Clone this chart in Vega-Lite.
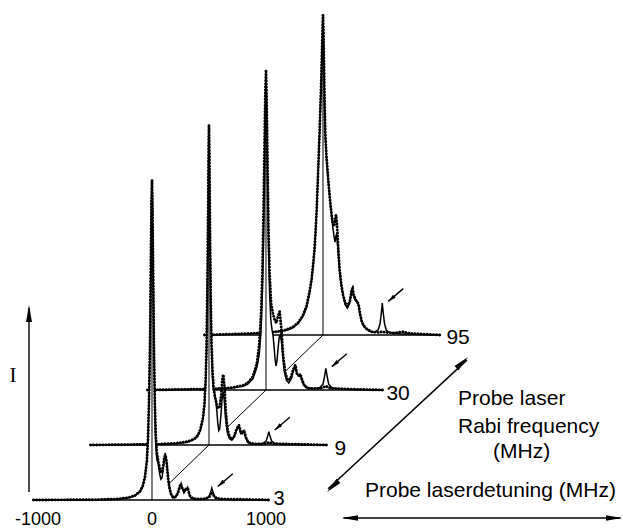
{
"$schema":"https://vega.github.io/schema/vega-lite/v6.json",
"width":623,"height":529,"padding":0,"autosize":{"type":"none"},"background":"white",
"config":{"view":{"stroke":null},"axis":{"disable":true},"legend":{"disable":true}},
"data":{"values":[
{"s":3,"c":"t","d":-1040,"i":0},{"s":3,"c":"t","d":-500,"i":0.001},{"s":3,"c":"t","d":-300,"i":0.003},{"s":3,"c":"t","d":-200,"i":0.007},{"s":3,"c":"t","d":-150,"i":0.013},{"s":3,"c":"t","d":-106,"i":0.025},{"s":3,"c":"t","d":-80,"i":0.043},{"s":3,"c":"t","d":-62,"i":0.07},{"s":3,"c":"t","d":-45,"i":0.125},{"s":3,"c":"t","d":-35,"i":0.19},{"s":3,"c":"t","d":-25,"i":0.32},{"s":3,"c":"t","d":-17,"i":0.5},{"s":3,"c":"t","d":-10,"i":0.74},{"s":3,"c":"t","d":-5,"i":0.92},{"s":3,"c":"t","d":0,"i":1},{"s":3,"c":"t","d":5,"i":0.92},{"s":3,"c":"t","d":10,"i":0.74},{"s":3,"c":"t","d":17,"i":0.5},{"s":3,"c":"t","d":25,"i":0.3},{"s":3,"c":"t","d":33,"i":0.17},{"s":3,"c":"t","d":42,"i":0.13},{"s":3,"c":"t","d":55,"i":0.11},{"s":3,"c":"t","d":68,"i":0.08},{"s":3,"c":"t","d":78,"i":0.065},{"s":3,"c":"t","d":88,"i":0.07},{"s":3,"c":"t","d":100,"i":0.1},{"s":3,"c":"t","d":108,"i":0.13},{"s":3,"c":"t","d":116,"i":0.147},{"s":3,"c":"t","d":125,"i":0.13},{"s":3,"c":"t","d":135,"i":0.09},{"s":3,"c":"t","d":145,"i":0.06},{"s":3,"c":"t","d":155,"i":0.035},{"s":3,"c":"t","d":165,"i":0.018},{"s":3,"c":"t","d":185,"i":0.006},{"s":3,"c":"t","d":205,"i":0.008},{"s":3,"c":"t","d":225,"i":0.02},{"s":3,"c":"t","d":242,"i":0.04},{"s":3,"c":"t","d":255,"i":0.052},{"s":3,"c":"t","d":268,"i":0.035},{"s":3,"c":"t","d":280,"i":0.022},{"s":3,"c":"t","d":295,"i":0.03},{"s":3,"c":"t","d":313,"i":0.04},{"s":3,"c":"t","d":325,"i":0.02},{"s":3,"c":"t","d":340,"i":0.006},{"s":3,"c":"t","d":380,"i":0.002},{"s":3,"c":"t","d":470,"i":0.003},{"s":3,"c":"t","d":500,"i":0.01},{"s":3,"c":"t","d":515,"i":0.025},{"s":3,"c":"t","d":525,"i":0.037},{"s":3,"c":"t","d":535,"i":0.025},{"s":3,"c":"t","d":550,"i":0.01},{"s":3,"c":"t","d":580,"i":0.003},{"s":3,"c":"t","d":700,"i":0.001},{"s":3,"c":"t","d":1030,"i":0},
{"s":3,"c":"e","d":-1040,"i":0},{"s":3,"c":"e","d":-500,"i":0.001},{"s":3,"c":"e","d":-300,"i":0.003},{"s":3,"c":"e","d":-200,"i":0.008},{"s":3,"c":"e","d":-150,"i":0.014},{"s":3,"c":"e","d":-106,"i":0.027},{"s":3,"c":"e","d":-80,"i":0.045},{"s":3,"c":"e","d":-62,"i":0.072},{"s":3,"c":"e","d":-45,"i":0.12},{"s":3,"c":"e","d":-35,"i":0.19},{"s":3,"c":"e","d":-25,"i":0.33},{"s":3,"c":"e","d":-17,"i":0.5},{"s":3,"c":"e","d":-10,"i":0.75},{"s":3,"c":"e","d":-5,"i":0.93},{"s":3,"c":"e","d":0,"i":1},{"s":3,"c":"e","d":5,"i":0.9},{"s":3,"c":"e","d":10,"i":0.72},{"s":3,"c":"e","d":17,"i":0.48},{"s":3,"c":"e","d":25,"i":0.3},{"s":3,"c":"e","d":33,"i":0.2},{"s":3,"c":"e","d":42,"i":0.15},{"s":3,"c":"e","d":55,"i":0.12},{"s":3,"c":"e","d":68,"i":0.1},{"s":3,"c":"e","d":78,"i":0.085},{"s":3,"c":"e","d":88,"i":0.09},{"s":3,"c":"e","d":100,"i":0.11},{"s":3,"c":"e","d":110,"i":0.135},{"s":3,"c":"e","d":118,"i":0.14},{"s":3,"c":"e","d":128,"i":0.12},{"s":3,"c":"e","d":140,"i":0.07},{"s":3,"c":"e","d":152,"i":0.04},{"s":3,"c":"e","d":165,"i":0.02},{"s":3,"c":"e","d":185,"i":0.008},{"s":3,"c":"e","d":210,"i":0.01},{"s":3,"c":"e","d":230,"i":0.025},{"s":3,"c":"e","d":250,"i":0.05},{"s":3,"c":"e","d":268,"i":0.035},{"s":3,"c":"e","d":282,"i":0.028},{"s":3,"c":"e","d":300,"i":0.035},{"s":3,"c":"e","d":315,"i":0.035},{"s":3,"c":"e","d":330,"i":0.015},{"s":3,"c":"e","d":360,"i":0.004},{"s":3,"c":"e","d":450,"i":0.003},{"s":3,"c":"e","d":500,"i":0.008},{"s":3,"c":"e","d":525,"i":0.025},{"s":3,"c":"e","d":550,"i":0.008},{"s":3,"c":"e","d":600,"i":0.003},{"s":3,"c":"e","d":800,"i":0.002},{"s":3,"c":"e","d":1030,"i":0},
{"s":3,"c":"p","d":525,"i":0.037},
{"s":9,"c":"t","d":-1040,"i":0},{"s":9,"c":"t","d":-500,"i":0.002},{"s":9,"c":"t","d":-300,"i":0.004},{"s":9,"c":"t","d":-200,"i":0.008},{"s":9,"c":"t","d":-160,"i":0.012},{"s":9,"c":"t","d":-120,"i":0.02},{"s":9,"c":"t","d":-97,"i":0.03},{"s":9,"c":"t","d":-75,"i":0.045},{"s":9,"c":"t","d":-53,"i":0.08},{"s":9,"c":"t","d":-40,"i":0.12},{"s":9,"c":"t","d":-30,"i":0.18},{"s":9,"c":"t","d":-22,"i":0.28},{"s":9,"c":"t","d":-15,"i":0.45},{"s":9,"c":"t","d":-8,"i":0.7},{"s":9,"c":"t","d":-3,"i":0.93},{"s":9,"c":"t","d":0,"i":1},{"s":9,"c":"t","d":3,"i":0.93},{"s":9,"c":"t","d":8,"i":0.7},{"s":9,"c":"t","d":15,"i":0.45},{"s":9,"c":"t","d":22,"i":0.3},{"s":9,"c":"t","d":30,"i":0.21},{"s":9,"c":"t","d":40,"i":0.17},{"s":9,"c":"t","d":50,"i":0.16},{"s":9,"c":"t","d":60,"i":0.14},{"s":9,"c":"t","d":70,"i":0.1},{"s":9,"c":"t","d":78,"i":0.065},{"s":9,"c":"t","d":86,"i":0.045},{"s":9,"c":"t","d":94,"i":0.05},{"s":9,"c":"t","d":104,"i":0.09},{"s":9,"c":"t","d":114,"i":0.14},{"s":9,"c":"t","d":124,"i":0.166},{"s":9,"c":"t","d":134,"i":0.14},{"s":9,"c":"t","d":146,"i":0.08},{"s":9,"c":"t","d":160,"i":0.04},{"s":9,"c":"t","d":178,"i":0.02},{"s":9,"c":"t","d":200,"i":0.015},{"s":9,"c":"t","d":220,"i":0.025},{"s":9,"c":"t","d":240,"i":0.045},{"s":9,"c":"t","d":262,"i":0.06},{"s":9,"c":"t","d":278,"i":0.035},{"s":9,"c":"t","d":292,"i":0.035},{"s":9,"c":"t","d":306,"i":0.045},{"s":9,"c":"t","d":320,"i":0.025},{"s":9,"c":"t","d":340,"i":0.008},{"s":9,"c":"t","d":380,"i":0.003},{"s":9,"c":"t","d":470,"i":0.004},{"s":9,"c":"t","d":500,"i":0.012},{"s":9,"c":"t","d":515,"i":0.028},{"s":9,"c":"t","d":525,"i":0.042},{"s":9,"c":"t","d":535,"i":0.028},{"s":9,"c":"t","d":550,"i":0.012},{"s":9,"c":"t","d":580,"i":0.004},{"s":9,"c":"t","d":700,"i":0.002},{"s":9,"c":"t","d":1030,"i":0},
{"s":9,"c":"e","d":-1040,"i":0},{"s":9,"c":"e","d":-500,"i":0.002},{"s":9,"c":"e","d":-300,"i":0.005},{"s":9,"c":"e","d":-200,"i":0.01},{"s":9,"c":"e","d":-160,"i":0.014},{"s":9,"c":"e","d":-120,"i":0.022},{"s":9,"c":"e","d":-97,"i":0.03},{"s":9,"c":"e","d":-75,"i":0.05},{"s":9,"c":"e","d":-53,"i":0.085},{"s":9,"c":"e","d":-40,"i":0.13},{"s":9,"c":"e","d":-30,"i":0.2},{"s":9,"c":"e","d":-22,"i":0.3},{"s":9,"c":"e","d":-15,"i":0.48},{"s":9,"c":"e","d":-8,"i":0.72},{"s":9,"c":"e","d":-3,"i":0.94},{"s":9,"c":"e","d":0,"i":1},{"s":9,"c":"e","d":3,"i":0.92},{"s":9,"c":"e","d":8,"i":0.7},{"s":9,"c":"e","d":15,"i":0.46},{"s":9,"c":"e","d":22,"i":0.32},{"s":9,"c":"e","d":30,"i":0.24},{"s":9,"c":"e","d":40,"i":0.18},{"s":9,"c":"e","d":52,"i":0.15},{"s":9,"c":"e","d":65,"i":0.13},{"s":9,"c":"e","d":80,"i":0.115},{"s":9,"c":"e","d":95,"i":0.12},{"s":9,"c":"e","d":108,"i":0.16},{"s":9,"c":"e","d":118,"i":0.21},{"s":9,"c":"e","d":126,"i":0.22},{"s":9,"c":"e","d":136,"i":0.18},{"s":9,"c":"e","d":148,"i":0.1},{"s":9,"c":"e","d":162,"i":0.05},{"s":9,"c":"e","d":180,"i":0.025},{"s":9,"c":"e","d":200,"i":0.018},{"s":9,"c":"e","d":222,"i":0.028},{"s":9,"c":"e","d":242,"i":0.05},{"s":9,"c":"e","d":262,"i":0.062},{"s":9,"c":"e","d":280,"i":0.04},{"s":9,"c":"e","d":295,"i":0.04},{"s":9,"c":"e","d":308,"i":0.045},{"s":9,"c":"e","d":322,"i":0.025},{"s":9,"c":"e","d":345,"i":0.008},{"s":9,"c":"e","d":400,"i":0.003},{"s":9,"c":"e","d":500,"i":0.004},{"s":9,"c":"e","d":525,"i":0.008},{"s":9,"c":"e","d":560,"i":0.004},{"s":9,"c":"e","d":800,"i":0.002},{"s":9,"c":"e","d":1030,"i":0},
{"s":9,"c":"p","d":525,"i":0.042},
{"s":30,"c":"t","d":-1040,"i":0},{"s":30,"c":"t","d":-500,"i":0.003},{"s":30,"c":"t","d":-300,"i":0.006},{"s":30,"c":"t","d":-200,"i":0.012},{"s":30,"c":"t","d":-160,"i":0.018},{"s":30,"c":"t","d":-115,"i":0.035},{"s":30,"c":"t","d":-80,"i":0.07},{"s":30,"c":"t","d":-60,"i":0.11},{"s":30,"c":"t","d":-44,"i":0.18},{"s":30,"c":"t","d":-32,"i":0.3},{"s":30,"c":"t","d":-22,"i":0.46},{"s":30,"c":"t","d":-14,"i":0.65},{"s":30,"c":"t","d":-6,"i":0.88},{"s":30,"c":"t","d":0,"i":1},{"s":30,"c":"t","d":6,"i":0.88},{"s":30,"c":"t","d":14,"i":0.65},{"s":30,"c":"t","d":22,"i":0.45},{"s":30,"c":"t","d":32,"i":0.3},{"s":30,"c":"t","d":42,"i":0.22},{"s":30,"c":"t","d":52,"i":0.19},{"s":30,"c":"t","d":62,"i":0.17},{"s":30,"c":"t","d":72,"i":0.13},{"s":30,"c":"t","d":80,"i":0.095},{"s":30,"c":"t","d":88,"i":0.075},{"s":30,"c":"t","d":96,"i":0.09},{"s":30,"c":"t","d":106,"i":0.13},{"s":30,"c":"t","d":116,"i":0.165},{"s":30,"c":"t","d":126,"i":0.172},{"s":30,"c":"t","d":136,"i":0.15},{"s":30,"c":"t","d":148,"i":0.1},{"s":30,"c":"t","d":162,"i":0.055},{"s":30,"c":"t","d":180,"i":0.03},{"s":30,"c":"t","d":200,"i":0.022},{"s":30,"c":"t","d":222,"i":0.035},{"s":30,"c":"t","d":240,"i":0.06},{"s":30,"c":"t","d":255,"i":0.08},{"s":30,"c":"t","d":268,"i":0.055},{"s":30,"c":"t","d":283,"i":0.045},{"s":30,"c":"t","d":298,"i":0.05},{"s":30,"c":"t","d":312,"i":0.035},{"s":30,"c":"t","d":330,"i":0.015},{"s":30,"c":"t","d":360,"i":0.006},{"s":30,"c":"t","d":420,"i":0.004},{"s":30,"c":"t","d":470,"i":0.007},{"s":30,"c":"t","d":500,"i":0.018},{"s":30,"c":"t","d":515,"i":0.045},{"s":30,"c":"t","d":525,"i":0.068},{"s":30,"c":"t","d":535,"i":0.045},{"s":30,"c":"t","d":550,"i":0.018},{"s":30,"c":"t","d":580,"i":0.006},{"s":30,"c":"t","d":700,"i":0.002},{"s":30,"c":"t","d":1030,"i":0},
{"s":30,"c":"e","d":-1040,"i":0},{"s":30,"c":"e","d":-500,"i":0.003},{"s":30,"c":"e","d":-300,"i":0.007},{"s":30,"c":"e","d":-200,"i":0.015},{"s":30,"c":"e","d":-160,"i":0.022},{"s":30,"c":"e","d":-115,"i":0.042},{"s":30,"c":"e","d":-80,"i":0.083},{"s":30,"c":"e","d":-60,"i":0.14},{"s":30,"c":"e","d":-44,"i":0.23},{"s":30,"c":"e","d":-32,"i":0.36},{"s":30,"c":"e","d":-22,"i":0.55},{"s":30,"c":"e","d":-14,"i":0.74},{"s":30,"c":"e","d":-6,"i":0.93},{"s":30,"c":"e","d":0,"i":1},{"s":30,"c":"e","d":6,"i":0.9},{"s":30,"c":"e","d":14,"i":0.7},{"s":30,"c":"e","d":22,"i":0.5},{"s":30,"c":"e","d":32,"i":0.36},{"s":30,"c":"e","d":45,"i":0.27},{"s":30,"c":"e","d":60,"i":0.24},{"s":30,"c":"e","d":75,"i":0.22},{"s":30,"c":"e","d":90,"i":0.21},{"s":30,"c":"e","d":105,"i":0.23},{"s":30,"c":"e","d":120,"i":0.245},{"s":30,"c":"e","d":135,"i":0.19},{"s":30,"c":"e","d":150,"i":0.11},{"s":30,"c":"e","d":168,"i":0.055},{"s":30,"c":"e","d":190,"i":0.03},{"s":30,"c":"e","d":215,"i":0.035},{"s":30,"c":"e","d":240,"i":0.065},{"s":30,"c":"e","d":258,"i":0.078},{"s":30,"c":"e","d":272,"i":0.05},{"s":30,"c":"e","d":288,"i":0.045},{"s":30,"c":"e","d":302,"i":0.048},{"s":30,"c":"e","d":318,"i":0.03},{"s":30,"c":"e","d":340,"i":0.012},{"s":30,"c":"e","d":380,"i":0.005},{"s":30,"c":"e","d":480,"i":0.005},{"s":30,"c":"e","d":525,"i":0.012},{"s":30,"c":"e","d":570,"i":0.005},{"s":30,"c":"e","d":800,"i":0.002},{"s":30,"c":"e","d":1030,"i":0},
{"s":30,"c":"p","d":525,"i":0.068},
{"s":95,"c":"t","d":-1040,"i":0},{"s":95,"c":"t","d":-700,"i":0.003},{"s":95,"c":"t","d":-500,"i":0.006},{"s":95,"c":"t","d":-400,"i":0.01},{"s":95,"c":"t","d":-325,"i":0.014},{"s":95,"c":"t","d":-264,"i":0.022},{"s":95,"c":"t","d":-220,"i":0.035},{"s":95,"c":"t","d":-177,"i":0.057},{"s":95,"c":"t","d":-145,"i":0.085},{"s":95,"c":"t","d":-118,"i":0.13},{"s":95,"c":"t","d":-100,"i":0.17},{"s":95,"c":"t","d":-88,"i":0.21},{"s":95,"c":"t","d":-75,"i":0.26},{"s":95,"c":"t","d":-65,"i":0.32},{"s":95,"c":"t","d":-55,"i":0.39},{"s":95,"c":"t","d":-46,"i":0.475},{"s":95,"c":"t","d":-38,"i":0.55},{"s":95,"c":"t","d":-30,"i":0.63},{"s":95,"c":"t","d":-22,"i":0.72},{"s":95,"c":"t","d":-15,"i":0.8},{"s":95,"c":"t","d":-8,"i":0.9},{"s":95,"c":"t","d":-3,"i":0.97},{"s":95,"c":"t","d":0,"i":1},{"s":95,"c":"t","d":3,"i":0.96},{"s":95,"c":"t","d":8,"i":0.86},{"s":95,"c":"t","d":14,"i":0.72},{"s":95,"c":"t","d":20,"i":0.62},{"s":95,"c":"t","d":30,"i":0.55},{"s":95,"c":"t","d":41,"i":0.5},{"s":95,"c":"t","d":52,"i":0.455},{"s":95,"c":"t","d":62,"i":0.42},{"s":95,"c":"t","d":74,"i":0.375},{"s":95,"c":"t","d":85,"i":0.34},{"s":95,"c":"t","d":96,"i":0.31},{"s":95,"c":"t","d":106,"i":0.29},{"s":95,"c":"t","d":114,"i":0.31},{"s":95,"c":"t","d":120,"i":0.315},{"s":95,"c":"t","d":128,"i":0.28},{"s":95,"c":"t","d":147,"i":0.19},{"s":95,"c":"t","d":162,"i":0.15},{"s":95,"c":"t","d":176,"i":0.125},{"s":95,"c":"t","d":195,"i":0.095},{"s":95,"c":"t","d":214,"i":0.084},{"s":95,"c":"t","d":235,"i":0.1},{"s":95,"c":"t","d":250,"i":0.14},{"s":95,"c":"t","d":258,"i":0.147},{"s":95,"c":"t","d":266,"i":0.125},{"s":95,"c":"t","d":280,"i":0.11},{"s":95,"c":"t","d":295,"i":0.105},{"s":95,"c":"t","d":308,"i":0.1},{"s":95,"c":"t","d":322,"i":0.07},{"s":95,"c":"t","d":336,"i":0.045},{"s":95,"c":"t","d":352,"i":0.03},{"s":95,"c":"t","d":380,"i":0.018},{"s":95,"c":"t","d":420,"i":0.01},{"s":95,"c":"t","d":450,"i":0.008},{"s":95,"c":"t","d":484,"i":0.016},{"s":95,"c":"t","d":500,"i":0.035},{"s":95,"c":"t","d":512,"i":0.07},{"s":95,"c":"t","d":520,"i":0.1},{"s":95,"c":"t","d":528,"i":0.07},{"s":95,"c":"t","d":540,"i":0.035},{"s":95,"c":"t","d":555,"i":0.015},{"s":95,"c":"t","d":580,"i":0.008},{"s":95,"c":"t","d":670,"i":0.004},{"s":95,"c":"t","d":800,"i":0.002},{"s":95,"c":"t","d":1030,"i":0},
{"s":95,"c":"e","d":-1040,"i":0},{"s":95,"c":"e","d":-700,"i":0.004},{"s":95,"c":"e","d":-500,"i":0.007},{"s":95,"c":"e","d":-400,"i":0.011},{"s":95,"c":"e","d":-325,"i":0.016},{"s":95,"c":"e","d":-264,"i":0.025},{"s":95,"c":"e","d":-220,"i":0.038},{"s":95,"c":"e","d":-177,"i":0.06},{"s":95,"c":"e","d":-145,"i":0.09},{"s":95,"c":"e","d":-118,"i":0.135},{"s":95,"c":"e","d":-100,"i":0.175},{"s":95,"c":"e","d":-88,"i":0.215},{"s":95,"c":"e","d":-75,"i":0.265},{"s":95,"c":"e","d":-65,"i":0.325},{"s":95,"c":"e","d":-55,"i":0.395},{"s":95,"c":"e","d":-46,"i":0.48},{"s":95,"c":"e","d":-38,"i":0.555},{"s":95,"c":"e","d":-30,"i":0.635},{"s":95,"c":"e","d":-22,"i":0.72},{"s":95,"c":"e","d":-15,"i":0.8},{"s":95,"c":"e","d":-8,"i":0.9},{"s":95,"c":"e","d":-3,"i":0.97},{"s":95,"c":"e","d":0,"i":1},{"s":95,"c":"e","d":3,"i":0.96},{"s":95,"c":"e","d":8,"i":0.87},{"s":95,"c":"e","d":14,"i":0.73},{"s":95,"c":"e","d":20,"i":0.63},{"s":95,"c":"e","d":30,"i":0.56},{"s":95,"c":"e","d":41,"i":0.51},{"s":95,"c":"e","d":52,"i":0.46},{"s":95,"c":"e","d":62,"i":0.42},{"s":95,"c":"e","d":74,"i":0.38},{"s":95,"c":"e","d":85,"i":0.35},{"s":95,"c":"e","d":96,"i":0.34},{"s":95,"c":"e","d":106,"i":0.36},{"s":95,"c":"e","d":114,"i":0.375},{"s":95,"c":"e","d":122,"i":0.35},{"s":95,"c":"e","d":134,"i":0.27},{"s":95,"c":"e","d":147,"i":0.2},{"s":95,"c":"e","d":162,"i":0.155},{"s":95,"c":"e","d":176,"i":0.125},{"s":95,"c":"e","d":195,"i":0.1},{"s":95,"c":"e","d":214,"i":0.09},{"s":95,"c":"e","d":235,"i":0.105},{"s":95,"c":"e","d":252,"i":0.14},{"s":95,"c":"e","d":260,"i":0.145},{"s":95,"c":"e","d":270,"i":0.125},{"s":95,"c":"e","d":285,"i":0.11},{"s":95,"c":"e","d":300,"i":0.105},{"s":95,"c":"e","d":312,"i":0.095},{"s":95,"c":"e","d":326,"i":0.065},{"s":95,"c":"e","d":340,"i":0.042},{"s":95,"c":"e","d":360,"i":0.028},{"s":95,"c":"e","d":390,"i":0.017},{"s":95,"c":"e","d":430,"i":0.01},{"s":95,"c":"e","d":480,"i":0.008},{"s":95,"c":"e","d":520,"i":0.01},{"s":95,"c":"e","d":560,"i":0.008},{"s":95,"c":"e","d":620,"i":0.006},{"s":95,"c":"e","d":700,"i":0.01},{"s":95,"c":"e","d":760,"i":0.005},{"s":95,"c":"e","d":880,"i":0.003},{"s":95,"c":"e","d":1030,"i":0},
{"s":95,"c":"p","d":520,"i":0.1}
]},
"transform":[
{"calculate":"indexof([3,9,30,95], datum.s)","as":"n"},
{"calculate":"datum.d + 500*datum.n","as":"X"},
{"calculate":"datum.i + 0.171875*datum.n","as":"Y"},
{"calculate":"0.171875*datum.n","as":"B"},
{"calculate":"500*datum.n","as":"Z"},
{"calculate":"datum.Z - 1040","as":"L"},
{"calculate":"datum.Z + 1030","as":"R"},
{"calculate":"datum.Z - 500","as":"Zp"},
{"calculate":"datum.B - 0.171875","as":"Bp"},
{"calculate":"datum.B + 1","as":"T"},
{"calculate":"datum.X + 52","as":"ax"},
{"calculate":"datum.Y + 0.005","as":"ay"},
{"calculate":"datum.X + 184","as":"bx"},
{"calculate":"datum.Y + 0.045","as":"by"}
],
"layer":[
{"transform":[{"filter":"datum.s==95"}],"layer":[
 {"transform":[{"filter":"datum.c=='t'"}],"mark":{"type":"area","fill":"white","opacity":1,"fillOpacity":1,"strokeWidth":0},
  "encoding":{"x":{"field":"X","type":"quantitative","scale":{"domain":[-1333.33,4131.58],"nice":false,"zero":false},"axis":null},"y":{"field":"Y","type":"quantitative","scale":{"domain":[-0.090625,1.5625],"nice":false,"zero":false},"axis":null},"y2":{"field":"B"}}},
 {"transform":[{"filter":"datum.c=='p'"}],"mark":{"type":"rule","color":"black","strokeWidth":1},
  "encoding":{"x":{"field":"Z","type":"quantitative"},"y":{"field":"B","type":"quantitative"},"x2":{"field":"Zp"},"y2":{"field":"Bp"}}},
 {"transform":[{"filter":"datum.c=='p'"}],"mark":{"type":"rule","color":"black","strokeWidth":1.3},
  "encoding":{"x":{"field":"L","type":"quantitative"},"x2":{"field":"R"},"y":{"field":"B","type":"quantitative"}}},
 {"transform":[{"filter":"datum.c=='p'"}],"mark":{"type":"rule","color":"black","strokeWidth":1},
  "encoding":{"x":{"field":"Z","type":"quantitative"},"y":{"field":"B","type":"quantitative"},"y2":{"field":"T"}}},
 {"transform":[{"filter":"datum.c=='t'"}],"mark":{"type":"line","color":"black","strokeWidth":1.5},
  "encoding":{"x":{"field":"X","type":"quantitative"},"y":{"field":"Y","type":"quantitative"}}},
 {"transform":[{"filter":"datum.c=='e'"}],"mark":{"type":"line","color":"black","strokeWidth":2.9,"strokeDash":[0.1,3.0],"strokeCap":"round"},
  "encoding":{"x":{"field":"X","type":"quantitative"},"y":{"field":"Y","type":"quantitative"}}},
 {"transform":[{"filter":"datum.c=='p'"}],"mark":{"type":"text","font":"Liberation Sans","fontSize":21,"align":"left","baseline":"alphabetic","dx":6,"dy":9,"color":"black"},
  "encoding":{"x":{"field":"R","type":"quantitative"},"y":{"field":"B","type":"quantitative"},"text":{"field":"s","type":"nominal"}}},
 {"transform":[{"filter":"datum.c=='p'"}],"mark":{"type":"rule","color":"black","strokeWidth":1.4},
  "encoding":{"x":{"field":"bx","type":"quantitative"},"y":{"field":"by","type":"quantitative"},"x2":{"field":"ax"},"y2":{"field":"ay"}}},
 {"transform":[{"filter":"datum.c=='p'"}],"mark":{"type":"point","shape":"M0,0L0.5,2L-0.5,2Z","filled":true,"color":"black","opacity":1,"strokeWidth":0,"size":64,"angle":229},
  "encoding":{"x":{"field":"ax","type":"quantitative"},"y":{"field":"ay","type":"quantitative"}}}
]},
{"transform":[{"filter":"datum.s==30"}],"layer":[
 {"transform":[{"filter":"datum.c=='t'"}],"mark":{"type":"area","fill":"white","opacity":1,"fillOpacity":1,"strokeWidth":0},
  "encoding":{"x":{"field":"X","type":"quantitative"},"y":{"field":"Y","type":"quantitative"},"y2":{"field":"B"}}},
 {"transform":[{"filter":"datum.c=='p'"}],"mark":{"type":"rule","color":"black","strokeWidth":1},
  "encoding":{"x":{"field":"Z","type":"quantitative"},"y":{"field":"B","type":"quantitative"},"x2":{"field":"Zp"},"y2":{"field":"Bp"}}},
 {"transform":[{"filter":"datum.c=='p'"}],"mark":{"type":"rule","color":"black","strokeWidth":1.3},
  "encoding":{"x":{"field":"L","type":"quantitative"},"x2":{"field":"R"},"y":{"field":"B","type":"quantitative"}}},
 {"transform":[{"filter":"datum.c=='p'"}],"mark":{"type":"rule","color":"black","strokeWidth":1},
  "encoding":{"x":{"field":"Z","type":"quantitative"},"y":{"field":"B","type":"quantitative"},"y2":{"field":"T"}}},
 {"transform":[{"filter":"datum.c=='t'"}],"mark":{"type":"line","color":"black","strokeWidth":1.5},
  "encoding":{"x":{"field":"X","type":"quantitative"},"y":{"field":"Y","type":"quantitative"}}},
 {"transform":[{"filter":"datum.c=='e'"}],"mark":{"type":"line","color":"black","strokeWidth":2.9,"strokeDash":[0.1,3.0],"strokeCap":"round"},
  "encoding":{"x":{"field":"X","type":"quantitative"},"y":{"field":"Y","type":"quantitative"}}},
 {"transform":[{"filter":"datum.c=='p'"}],"mark":{"type":"text","font":"Liberation Sans","fontSize":21,"align":"left","baseline":"alphabetic","dx":3,"dy":10,"color":"black"},
  "encoding":{"x":{"field":"R","type":"quantitative"},"y":{"field":"B","type":"quantitative"},"text":{"field":"s","type":"nominal"}}},
 {"transform":[{"filter":"datum.c=='p'"}],"mark":{"type":"rule","color":"black","strokeWidth":1.4},
  "encoding":{"x":{"field":"bx","type":"quantitative"},"y":{"field":"by","type":"quantitative"},"x2":{"field":"ax"},"y2":{"field":"ay"}}},
 {"transform":[{"filter":"datum.c=='p'"}],"mark":{"type":"point","shape":"M0,0L0.5,2L-0.5,2Z","filled":true,"color":"black","opacity":1,"strokeWidth":0,"size":64,"angle":229},
  "encoding":{"x":{"field":"ax","type":"quantitative"},"y":{"field":"ay","type":"quantitative"}}}
]},
{"transform":[{"filter":"datum.s==9"}],"layer":[
 {"transform":[{"filter":"datum.c=='t'"}],"mark":{"type":"area","fill":"white","opacity":1,"fillOpacity":1,"strokeWidth":0},
  "encoding":{"x":{"field":"X","type":"quantitative"},"y":{"field":"Y","type":"quantitative"},"y2":{"field":"B"}}},
 {"transform":[{"filter":"datum.c=='p'"}],"mark":{"type":"rule","color":"black","strokeWidth":1},
  "encoding":{"x":{"field":"Z","type":"quantitative"},"y":{"field":"B","type":"quantitative"},"x2":{"field":"Zp"},"y2":{"field":"Bp"}}},
 {"transform":[{"filter":"datum.c=='p'"}],"mark":{"type":"rule","color":"black","strokeWidth":1.3},
  "encoding":{"x":{"field":"L","type":"quantitative"},"x2":{"field":"R"},"y":{"field":"B","type":"quantitative"}}},
 {"transform":[{"filter":"datum.c=='p'"}],"mark":{"type":"rule","color":"black","strokeWidth":1},
  "encoding":{"x":{"field":"Z","type":"quantitative"},"y":{"field":"B","type":"quantitative"},"y2":{"field":"T"}}},
 {"transform":[{"filter":"datum.c=='t'"}],"mark":{"type":"line","color":"black","strokeWidth":1.5},
  "encoding":{"x":{"field":"X","type":"quantitative"},"y":{"field":"Y","type":"quantitative"}}},
 {"transform":[{"filter":"datum.c=='e'"}],"mark":{"type":"line","color":"black","strokeWidth":2.9,"strokeDash":[0.1,3.0],"strokeCap":"round"},
  "encoding":{"x":{"field":"X","type":"quantitative"},"y":{"field":"Y","type":"quantitative"}}},
 {"transform":[{"filter":"datum.c=='p'"}],"mark":{"type":"text","font":"Liberation Sans","fontSize":21,"align":"left","baseline":"alphabetic","dx":8,"dy":10,"color":"black"},
  "encoding":{"x":{"field":"R","type":"quantitative"},"y":{"field":"B","type":"quantitative"},"text":{"field":"s","type":"nominal"}}},
 {"transform":[{"filter":"datum.c=='p'"}],"mark":{"type":"rule","color":"black","strokeWidth":1.4},
  "encoding":{"x":{"field":"bx","type":"quantitative"},"y":{"field":"by","type":"quantitative"},"x2":{"field":"ax"},"y2":{"field":"ay"}}},
 {"transform":[{"filter":"datum.c=='p'"}],"mark":{"type":"point","shape":"M0,0L0.5,2L-0.5,2Z","filled":true,"color":"black","opacity":1,"strokeWidth":0,"size":64,"angle":229},
  "encoding":{"x":{"field":"ax","type":"quantitative"},"y":{"field":"ay","type":"quantitative"}}}
]},
{"transform":[{"filter":"datum.s==3"}],"layer":[
 {"transform":[{"filter":"datum.c=='t'"}],"mark":{"type":"area","fill":"white","opacity":1,"fillOpacity":1,"strokeWidth":0},
  "encoding":{"x":{"field":"X","type":"quantitative"},"y":{"field":"Y","type":"quantitative"},"y2":{"field":"B"}}},
 {"transform":[{"filter":"datum.c=='p'"}],"mark":{"type":"rule","color":"black","strokeWidth":1.3},
  "encoding":{"x":{"field":"L","type":"quantitative"},"x2":{"field":"R"},"y":{"field":"B","type":"quantitative"}}},
 {"transform":[{"filter":"datum.c=='p'"}],"mark":{"type":"rule","color":"black","strokeWidth":1},
  "encoding":{"x":{"field":"Z","type":"quantitative"},"y":{"field":"B","type":"quantitative"},"y2":{"field":"T"}}},
 {"transform":[{"filter":"datum.c=='t'"}],"mark":{"type":"line","color":"black","strokeWidth":1.5},
  "encoding":{"x":{"field":"X","type":"quantitative"},"y":{"field":"Y","type":"quantitative"}}},
 {"transform":[{"filter":"datum.c=='e'"}],"mark":{"type":"line","color":"black","strokeWidth":2.9,"strokeDash":[0.1,3.0],"strokeCap":"round"},
  "encoding":{"x":{"field":"X","type":"quantitative"},"y":{"field":"Y","type":"quantitative"}}},
 {"transform":[{"filter":"datum.c=='p'"}],"mark":{"type":"text","font":"Liberation Sans","fontSize":20,"align":"left","baseline":"alphabetic","dx":4,"dy":5,"color":"black"},
  "encoding":{"x":{"field":"R","type":"quantitative"},"y":{"field":"B","type":"quantitative"},"text":{"field":"s","type":"nominal"}}},
 {"transform":[{"filter":"datum.c=='p'"}],"mark":{"type":"rule","color":"black","strokeWidth":1.4},
  "encoding":{"x":{"field":"bx","type":"quantitative"},"y":{"field":"by","type":"quantitative"},"x2":{"field":"ax"},"y2":{"field":"ay"}}},
 {"transform":[{"filter":"datum.c=='p'"}],"mark":{"type":"point","shape":"M0,0L0.5,2L-0.5,2Z","filled":true,"color":"black","opacity":1,"strokeWidth":0,"size":64,"angle":229},
  "encoding":{"x":{"field":"ax","type":"quantitative"},"y":{"field":"ay","type":"quantitative"}}}
]},
{"data":{"values":[{"lab":"-1000","v":-1000},{"lab":"0","v":0},{"lab":"1000","v":1000}]},
 "mark":{"type":"text","font":"Liberation Sans","fontSize":18,"align":"center","baseline":"bottom","color":"black"},
 "encoding":{"x":{"field":"v","type":"quantitative"},"y":{"datum":-0.0903,"type":"quantitative"},"text":{"field":"lab","type":"nominal"}}},
{"data":{"values":[{}]},"mark":{"type":"rule","color":"black","strokeWidth":1.4},
 "encoding":{"x":{"datum":-1078.9,"type":"quantitative"},"y":{"datum":0.025,"type":"quantitative"},"y2":{"datum":0.6}}},
{"data":{"values":[{}]},"mark":{"type":"point","shape":"M0,0L0.35,2L-0.35,2Z","filled":true,"color":"black","opacity":1,"strokeWidth":0,"size":289,"angle":0},
 "encoding":{"x":{"datum":-1078.9,"type":"quantitative"},"y":{"datum":0.6094,"type":"quantitative"}}},
{"data":{"values":[{}]},"mark":{"type":"text","text":"I","font":"Liberation Serif","fontSize":21,"align":"center","baseline":"middle","color":"black"},
 "encoding":{"x":{"datum":-1219.3,"type":"quantitative"},"y":{"datum":0.3875,"type":"quantitative"}}},
{"data":{"values":[{}]},"mark":{"type":"rule","color":"black","strokeWidth":1.5},
 "encoding":{"x":{"datum":1545,"type":"quantitative"},"y":{"datum":0.035,"type":"quantitative"},"x2":{"datum":2762},"y2":{"datum":0.437}}},
{"data":{"values":[{}]},"mark":{"type":"point","shape":"M0,0L0.35,2L-0.35,2Z","filled":true,"color":"black","opacity":1,"strokeWidth":0,"size":256,"angle":46},
 "encoding":{"x":{"datum":2771.9,"type":"quantitative"},"y":{"datum":0.446875,"type":"quantitative"}}},
{"data":{"values":[{}]},"mark":{"type":"point","shape":"M0,0L0.35,2L-0.35,2Z","filled":true,"color":"black","opacity":1,"strokeWidth":0,"size":256,"angle":226},
 "encoding":{"x":{"datum":1535.1,"type":"quantitative"},"y":{"datum":0.025,"type":"quantitative"}}},
{"data":{"values":[{}]},"mark":{"type":"rule","color":"black","strokeWidth":1.5},
 "encoding":{"x":{"datum":1680,"type":"quantitative"},"y":{"datum":-0.05625,"type":"quantitative"},"x2":{"datum":4110}}},
{"data":{"values":[{}]},"mark":{"type":"point","shape":"M0,0L0.35,2L-0.35,2Z","filled":true,"color":"black","opacity":1,"strokeWidth":0,"size":256,"angle":90},
 "encoding":{"x":{"datum":4122.8,"type":"quantitative"},"y":{"datum":-0.05625,"type":"quantitative"}}},
{"data":{"values":[{}]},"mark":{"type":"point","shape":"M0,0L0.35,2L-0.35,2Z","filled":true,"color":"black","opacity":1,"strokeWidth":0,"size":256,"angle":270},
 "encoding":{"x":{"datum":1666.7,"type":"quantitative"},"y":{"datum":-0.05625,"type":"quantitative"}}},
{"data":{"values":[{}]},"mark":{"type":"text","text":"Probe laser","font":"Liberation Sans","fontSize":21,"align":"left","baseline":"alphabetic","color":"black"},
 "encoding":{"x":{"datum":2684.2,"type":"quantitative"},"y":{"datum":0.296875,"type":"quantitative"}}},
{"data":{"values":[{}]},"mark":{"type":"text","text":"Rabi frequency","font":"Liberation Sans","fontSize":21,"align":"left","baseline":"alphabetic","color":"black"},
 "encoding":{"x":{"datum":2684.2,"type":"quantitative"},"y":{"datum":0.209375,"type":"quantitative"}}},
{"data":{"values":[{}]},"mark":{"type":"text","text":"(MHz)","font":"Liberation Sans","fontSize":21,"align":"left","baseline":"alphabetic","color":"black"},
 "encoding":{"x":{"datum":2991.2,"type":"quantitative"},"y":{"datum":0.13125,"type":"quantitative"}}},
{"data":{"values":[{}]},"mark":{"type":"text","text":"Probe laserdetuning (MHz)","font":"Liberation Sans","fontSize":21,"align":"left","baseline":"alphabetic","color":"black"},
 "encoding":{"x":{"datum":1868.4,"type":"quantitative"},"y":{"datum":0.009375,"type":"quantitative"}}}
]
}
